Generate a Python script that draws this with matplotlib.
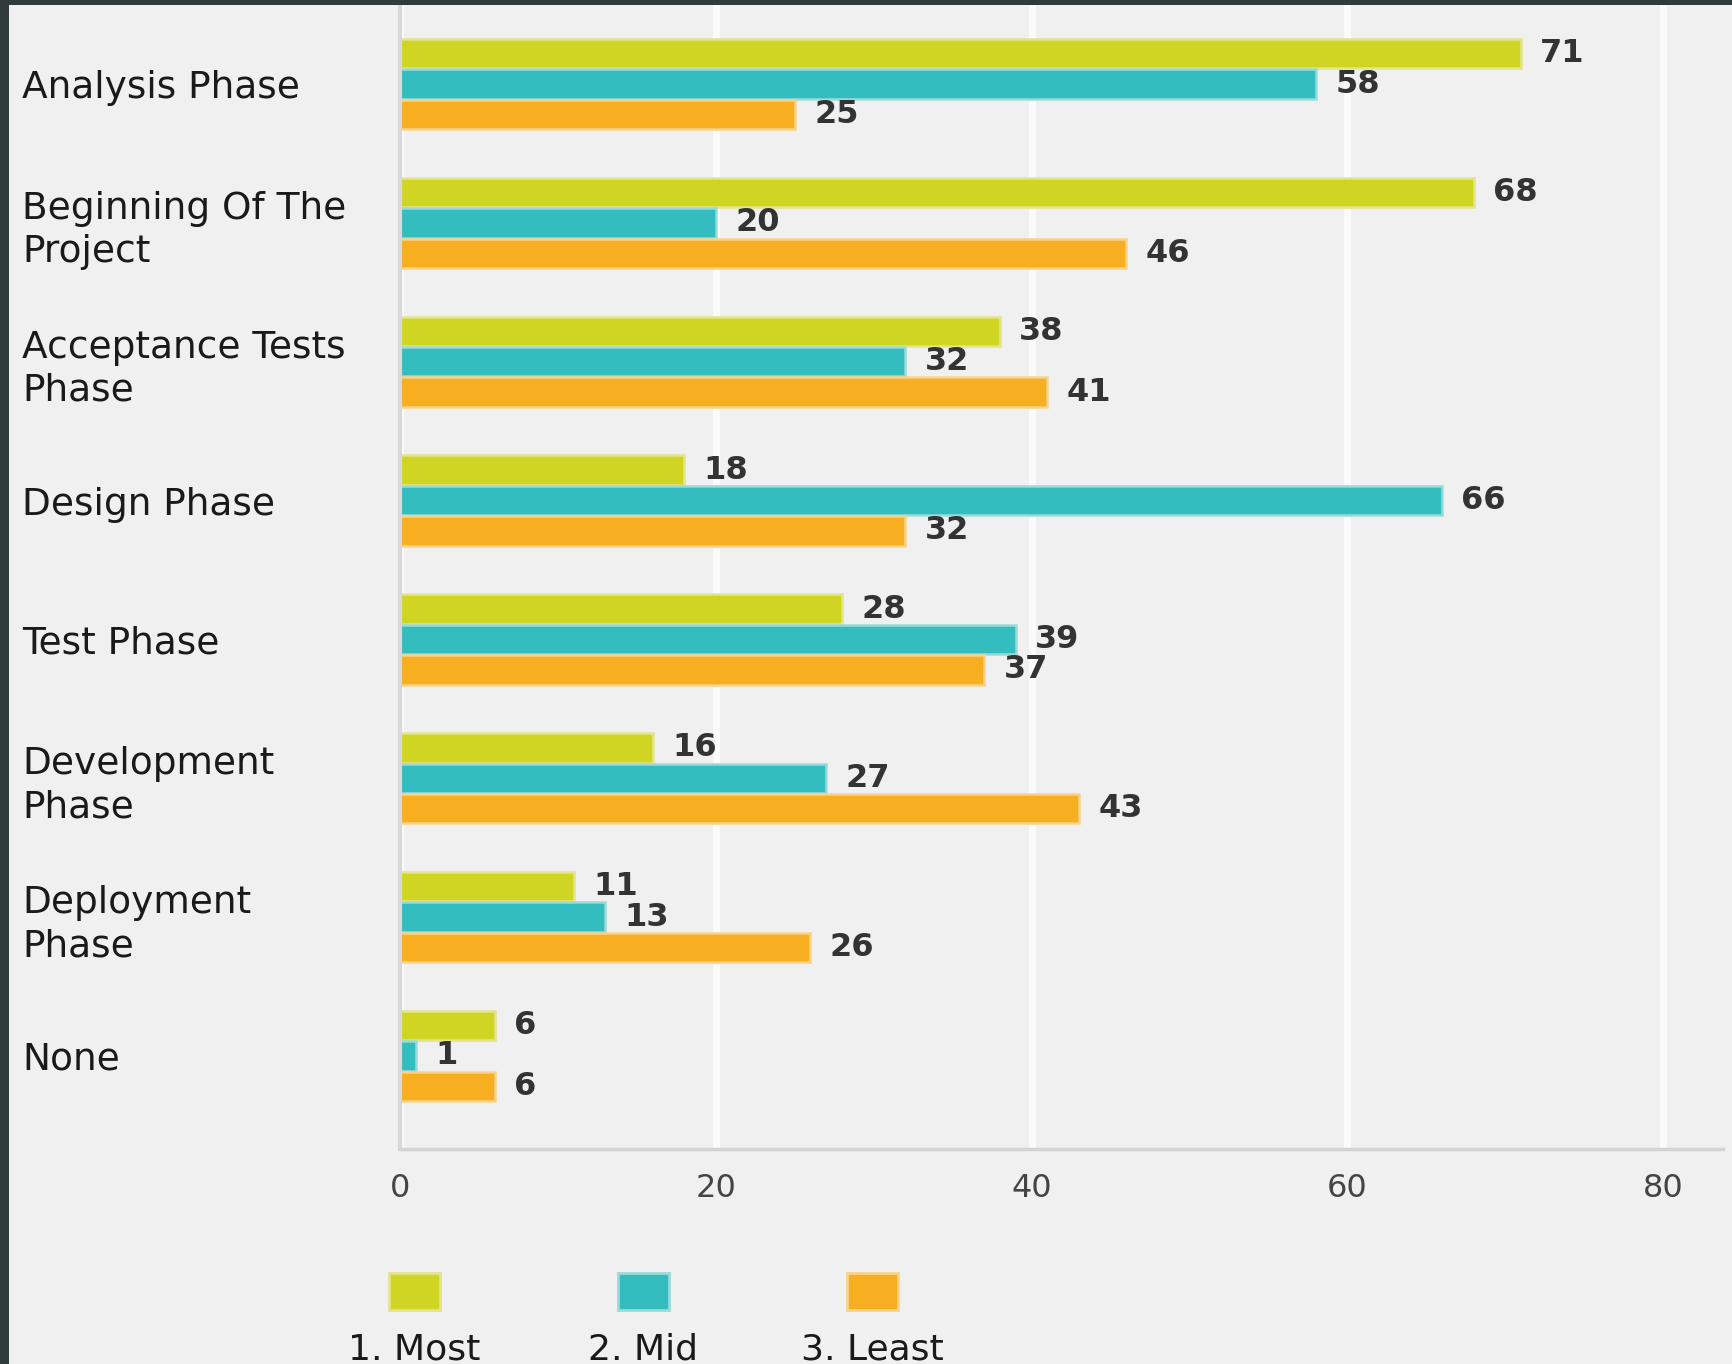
import matplotlib
matplotlib.use("Agg")
import matplotlib.pyplot as plt
from matplotlib.patches import Rectangle
import numpy as np

# data
phases = [
    "Analysis Phase",
    "Beginning Of The\nProject",
    "Acceptance Tests\nPhase",
    "Design Phase",
    "Test Phase",
    "Development\nPhase",
    "Deployment\nPhase",
    "None",
]
most = [71, 68, 38, 18, 28, 16, 11, 6]
mid = [58, 20, 32, 66, 39, 27, 13, 1]
least = [25, 46, 41, 32, 37, 43, 26, 6]
series_names = ["1. Most", "2. Mid", "3. Least"]
x_ticks = [0, 20, 40, 60, 80]

colors = ["#d0d524", "#34bdbf", "#f7ae20"]
edges = ["#e3e48c", "#9adada", "#f8d28a"]
bg = "#f0f0f0"

W, H = 1732, 1364
fig = plt.figure(figsize=(W / 100, H / 100), dpi=100, facecolor=bg)
ax = fig.add_axes([400 / W, 215 / H, (1723 - 400) / W, (1359 - 215) / H])
ax.set_facecolor(bg)

y = np.arange(len(phases))
h = 0.212
step = 0.219
for vals, off, c, ec in zip([most, mid, least], [-step, 0, step], colors, edges):
    bars = ax.barh(y + off, vals, height=h, color=c, edgecolor=ec, linewidth=1.8)
    ax.bar_label(bars, padding=14, fontsize=23, fontweight="bold", color="#333333")

ax.set_xlim(0, 83.8)
ax.set_ylim(7.67, -0.569)

ax.set_xticks(x_ticks)
ax.set_xticklabels([str(t) for t in x_ticks], fontsize=23, color="#444444")
ax.set_yticks(y)
ax.set_yticklabels(phases, fontsize=27, color="#1a1a1a", ha="left", linespacing=1.25)
ax.tick_params(axis="y", length=0, pad=272)
ax.tick_params(axis="x", length=0, pad=17)

ax.set_axisbelow(True)
ax.grid(axis="x", color="#fbfbfb", linewidth=5)
ax.grid(axis="y", visible=False)
for s in ("top", "right"):
    ax.spines[s].set_visible(False)
ax.spines["left"].set_color("#d8d8d8")
ax.spines["left"].set_linewidth(3)
ax.spines["bottom"].set_color("#d3d3d3")
ax.spines["bottom"].set_linewidth(2.5)

# legend: swatches with names underneath
sw_left = [389, 618, 847]
for name, c, ec, lx in zip(series_names, colors, edges, sw_left):
    fig.patches.append(Rectangle((lx / W, (H - 1310) / H), 51 / W, 37 / H,
                                 transform=fig.transFigure, facecolor=c,
                                 edgecolor=ec, linewidth=2))
    fig.text((lx + 25) / W, (H - 1360) / H, name, fontsize=26, color="#1a1a1a",
             ha="center", va="baseline")

# dark frame on the left and top edges
fig.patches.append(Rectangle((0, 0), 9 / W, 1, transform=fig.transFigure,
                             facecolor="#323b3b", edgecolor="none"))
fig.patches.append(Rectangle((0, 1 - 5 / H), 1, 5 / H, transform=fig.transFigure,
                             facecolor="#323b3b", edgecolor="none"))

fig.savefig("out.png", dpi=100, facecolor=bg)
